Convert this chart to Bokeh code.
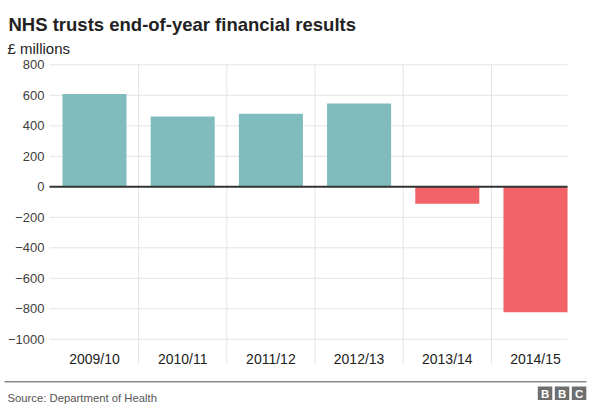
from bokeh.plotting import figure
from bokeh.models import ColumnDataSource, FixedTicker, Range1d, Label, BoxAnnotation
from bokeh.embed import file_html
from bokeh.resources import INLINE

# ---- data ----
categories = ["2009/10", "2010/11", "2011/12", "2012/13", "2013/14", "2014/15"]
results = [608, 461, 479, 546, -111, -822]
y_ticks = [-1000, -800, -600, -400, -200, 0, 200, 400, 600, 800]

title_text = "NHS trusts end-of-year financial results"
unit_text = "£ millions"
source_text = "Source: Department of Health"
logo_letters = ["B", "B", "C"]

POS = "#80bcbd"
NEG = "#f16369"
GRID = "#e4e4e4"
FONT = "Liberation Sans"
W, H = 591, 408

# pixel layout of the plotting area inside the canvas
PX_PER_CAT = 88.2      # px per category
X0_PX = 94.0           # centre of first category
Y0_PX = 186.3          # y position of value 0
PX_PER_UNIT = 0.1525   # px per £m

x_start = -X0_PX / PX_PER_CAT
x_end = (W - X0_PX) / PX_PER_CAT
y_top = Y0_PX / PX_PER_UNIT
y_bottom = -(H - Y0_PX) / PX_PER_UNIT

area_left = (49 - X0_PX) / PX_PER_CAT
area_right = (567 - X0_PX) / PX_PER_CAT
area_bottom = -(364 - Y0_PX) / PX_PER_UNIT

xs = list(range(len(categories)))
colors = [POS if v >= 0 else NEG for v in results]
src = ColumnDataSource(dict(x=xs, top=results, color=colors))

p = figure(width=W, height=H, output_backend="svg", toolbar_location=None,
           x_range=Range1d(x_start, x_end), y_range=Range1d(y_bottom, y_top),
           min_border=0, min_border_left=0, min_border_right=0,
           min_border_top=0, min_border_bottom=0, title=None, tools="")
p.outline_line_color = None
p.background_fill_color = "white"
p.border_fill_color = "white"
p.grid.visible = False

# grid lines limited to the plotting area
n_ticks = len(y_ticks)
p.segment(x0=[area_left] * n_ticks, x1=[area_right] * n_ticks, y0=y_ticks, y1=y_ticks,
          line_color=GRID, line_width=1)
bounds = [i + 0.5 for i in range(len(categories) - 1)]
p.segment(x0=bounds, x1=bounds, y0=[max(y_ticks)] * len(bounds),
          y1=[area_bottom] * len(bounds), line_color=GRID, line_width=1)

p.vbar(x="x", top="top", bottom=0, width=0.726, fill_color="color",
       line_color=None, source=src)

# zero line
p.segment(x0=[area_left], x1=[area_right], y0=[0], y1=[0], line_color="#333333",
          line_width=2)

ya = p.yaxis[0]
ya.ticker = FixedTicker(ticks=y_ticks)
ya.axis_line_color = None
ya.major_tick_line_color = None
ya.minor_tick_line_color = None
ya.major_tick_out = 0
ya.major_tick_in = 0
ya.major_label_standoff = -44
ya.major_label_text_font = FONT
ya.major_label_text_font_size = "13px"
ya.major_label_text_color = "#404040"

xa = p.xaxis[0]
xa.ticker = FixedTicker(ticks=xs)
xa.major_label_overrides = {i: c for i, c in zip(xs, categories)}
xa.axis_line_color = None
xa.major_tick_line_color = None
xa.minor_tick_line_color = None
xa.major_tick_out = 0
xa.major_tick_in = 0
xa.major_label_standoff = -58
xa.major_label_text_font = FONT
xa.major_label_text_font_size = "14px"
xa.major_label_text_color = "#222222"


# screen coordinates relative to the frame (= whole canvas), origin bottom-left
def sy(Y):
    return H - Y


def label(X, Y, text, size, color, bold=False, align="left", baseline="alphabetic"):
    p.add_layout(Label(x=X, y=sy(Y), x_units="screen", y_units="screen", text=text,
                       text_font=FONT, text_font_size=size, text_color=color,
                       text_font_style="bold" if bold else "normal",
                       text_align=align, text_baseline=baseline))


def box(L, R, T, B, color):
    p.add_layout(BoxAnnotation(left=L, right=R, top=sy(T), bottom=sy(B),
                               left_units="screen", right_units="screen",
                               top_units="screen", bottom_units="screen",
                               fill_color=color, fill_alpha=1, line_color=None))


label(8, 24, title_text, "18.5px", "#222222", bold=True)
label(7, 48, unit_text, "15px", "#222222")
box(4, 586, 380.5, 382, "#8a8a8a")
label(7, 397, source_text, "11.3px", "#555555")
for X0, letter in zip([537.3, 554.3, 571.3], logo_letters):
    box(X0, X0 + 14.5, 386, 399.5, "#6e6e6e")
    label(X0 + 7.25, 393, letter, "11.5px", "white", bold=True, align="center",
          baseline="middle")

open("out.html", "w").write(file_html(p, INLINE))
